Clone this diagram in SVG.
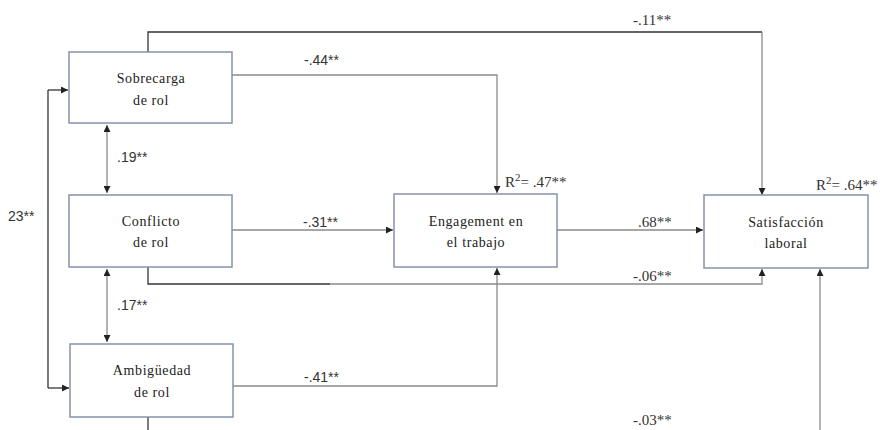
<svg xmlns="http://www.w3.org/2000/svg" width="891" height="430" viewBox="0 0 891 430">
<style>
.box{fill:#fff;stroke:#8593ab;stroke-width:1.5}
.nt{font-family:'Liberation Serif','DejaVu Serif','Times New Roman',serif;font-size:14px;fill:#222;text-anchor:middle;letter-spacing:0.6px}
.ln{fill:none;stroke:#8a8a8a;stroke-width:1.3}
.dk{fill:none;stroke:#333;stroke-width:1.3}
.ls{font-family:'Liberation Sans',Arial,sans-serif;font-size:14px;fill:#333}
.lr{font-family:'Liberation Serif','DejaVu Serif','Times New Roman',serif;font-size:15px;fill:#333}
</style>
<defs>
<marker id="ah" viewBox="0 0 8 8" refX="8" refY="4" markerWidth="7" markerHeight="7" markerUnits="userSpaceOnUse" orient="auto-start-reverse">
<path d="M0,0 L8,4 L0,8 Z" fill="#222"/>
</marker>
</defs>
<rect width="891" height="430" fill="#fff"/>
<g id="connectors">
<path class="dk" d="M148,52 V32 H762"/>
<path class="ln" d="M762,32 V195" marker-end="url(#ah)"/>
<path class="ln" d="M232,75 H497 V193" marker-end="url(#ah)"/>
<path class="dk" d="M48,90 V388" />
<path class="dk" d="M48,90 H68" marker-end="url(#ah)"/>
<path class="dk" d="M48,388 H69" marker-end="url(#ah)"/>
<path class="ln" d="M107,125 V193" marker-start="url(#ah)" marker-end="url(#ah)"/>
<path class="ln" d="M107,269 V342" marker-start="url(#ah)" marker-end="url(#ah)"/>
<path class="ln" d="M232,230 H393" marker-end="url(#ah)"/>
<path class="dk" d="M148,267 V284 H330"/>
<path class="ln" d="M330,284 H762 V269" marker-end="url(#ah)"/>
<path class="ln" d="M233,386 H497 V268" marker-end="url(#ah)"/>
<path class="ln" d="M557,230 H703" marker-end="url(#ah)"/>
<path class="dk" d="M148,417 V430"/>
<path class="ln" d="M820,430 V269" marker-end="url(#ah)"/>
</g>
<g id="sobrecarga"><rect class="box" x="69" y="52" width="163" height="71"/><text class="nt" x="151" y="83">Sobrecarga</text><text class="nt" x="151" y="105">de rol</text></g>
<g id="conflicto"><rect class="box" x="69" y="195" width="163" height="72"/><text class="nt" x="151" y="226">Conflicto</text><text class="nt" x="151" y="247">de rol</text></g>
<g id="ambiguedad"><rect class="box" x="70" y="344" width="163" height="73"/><text class="nt" x="152" y="375">Ambigüedad</text><text class="nt" x="152" y="397">de rol</text></g>
<g id="engagement"><rect class="box" x="394" y="194" width="163" height="73"/><text class="nt" x="476" y="226">Engagement en</text><text class="nt" x="476" y="247">el trabajo</text></g>
<g id="satisfaccion"><rect class="box" x="704" y="195" width="164" height="73"/><text class="nt" x="786" y="227">Satisfacción</text><text class="nt" x="786" y="248">laboral</text></g>
<g id="labels">
<text class="lr" x="633" y="25">-.11**</text>
<text class="ls" x="304" y="65">-.44**</text>
<text class="ls" x="117" y="162">.19**</text>
<text class="ls" x="8" y="221">23**</text>
<text class="ls" x="303" y="227">-.31**</text>
<text class="lr" x="505" y="187">R<tspan dy="-6" font-size="11">2</tspan><tspan dy="6">= .47**</tspan></text>
<text class="lr" x="816" y="190">R<tspan dy="-6" font-size="11">2</tspan><tspan dy="6">= .64**</tspan></text>
<text class="lr" x="638" y="227">.68**</text>
<text class="lr" x="633" y="281">-.06**</text>
<text class="ls" x="117" y="310">.17**</text>
<text class="ls" x="304" y="382">-.41**</text>
<text class="lr" x="633" y="425">-.03**</text>
</g>
</svg>
